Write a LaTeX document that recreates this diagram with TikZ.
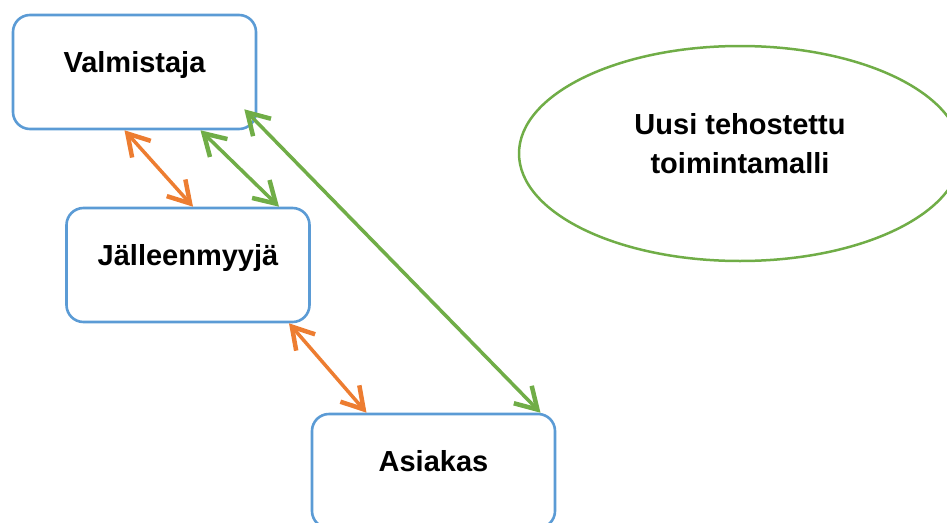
\documentclass[tikz,border=0pt]{standalone}
\usepackage{fontspec}
\setmainfont{Liberation Sans}
\usetikzlibrary{arrows.meta,shapes.geometric}
\definecolor{boxblue}{HTML}{5B9BD5}
\definecolor{linkorange}{HTML}{ED7D31}
\definecolor{linkgreen}{HTML}{70AD47}

\begin{document}
\begin{tikzpicture}[x=1pt, y=-1pt,
    actor/.style={draw=boxblue, line width=2.6pt, rounded corners=17pt,
      minimum width=243pt, minimum height=114pt, inner sep=0pt,
      text height=0pt, text depth=0pt, font=\bfseries\fontsize{29}{39}\selectfont},
    link/.style={line width=3.5pt,
      {Straight Barb[length=21pt,width=25pt,line width=4.5pt]}-{Straight Barb[length=21pt,width=25pt,line width=4.5pt]}}]
      \useasboundingbox (0,0) rectangle (947,522);

      \node[actor] (valm) at (134.5,72) {Valmistaja};
      \node[actor] (jalm) at (188,265) {Jälleenmyyjä};
      \node[actor] (asiak) at (433.5,471) {Asiakas};

      \node[ellipse, draw=linkgreen, line width=2.5pt, minimum width=442pt,
        minimum height=215pt, align=center, text height=59pt, text depth=20pt,
        font=\bfseries\fontsize{29}{39}\selectfont] (malli) at (740,153.5)
        {Uusi tehostettu\\toimintamalli};

      \draw[link, linkorange] ([xshift=-10pt]valm.south) -- ([xshift=5pt]jalm.north);
      \draw[link, linkgreen] ([xshift=66pt]valm.south) -- ([xshift=91pt]jalm.north);
      \draw[link, linkgreen] ([xshift=-13pt,yshift=21pt]valm.south east) -- ([xshift=107pt]asiak.north);
      \draw[link, linkorange] ([xshift=101pt]jalm.south) -- ([xshift=-67pt]asiak.north);
    \end{tikzpicture}
\end{document}
